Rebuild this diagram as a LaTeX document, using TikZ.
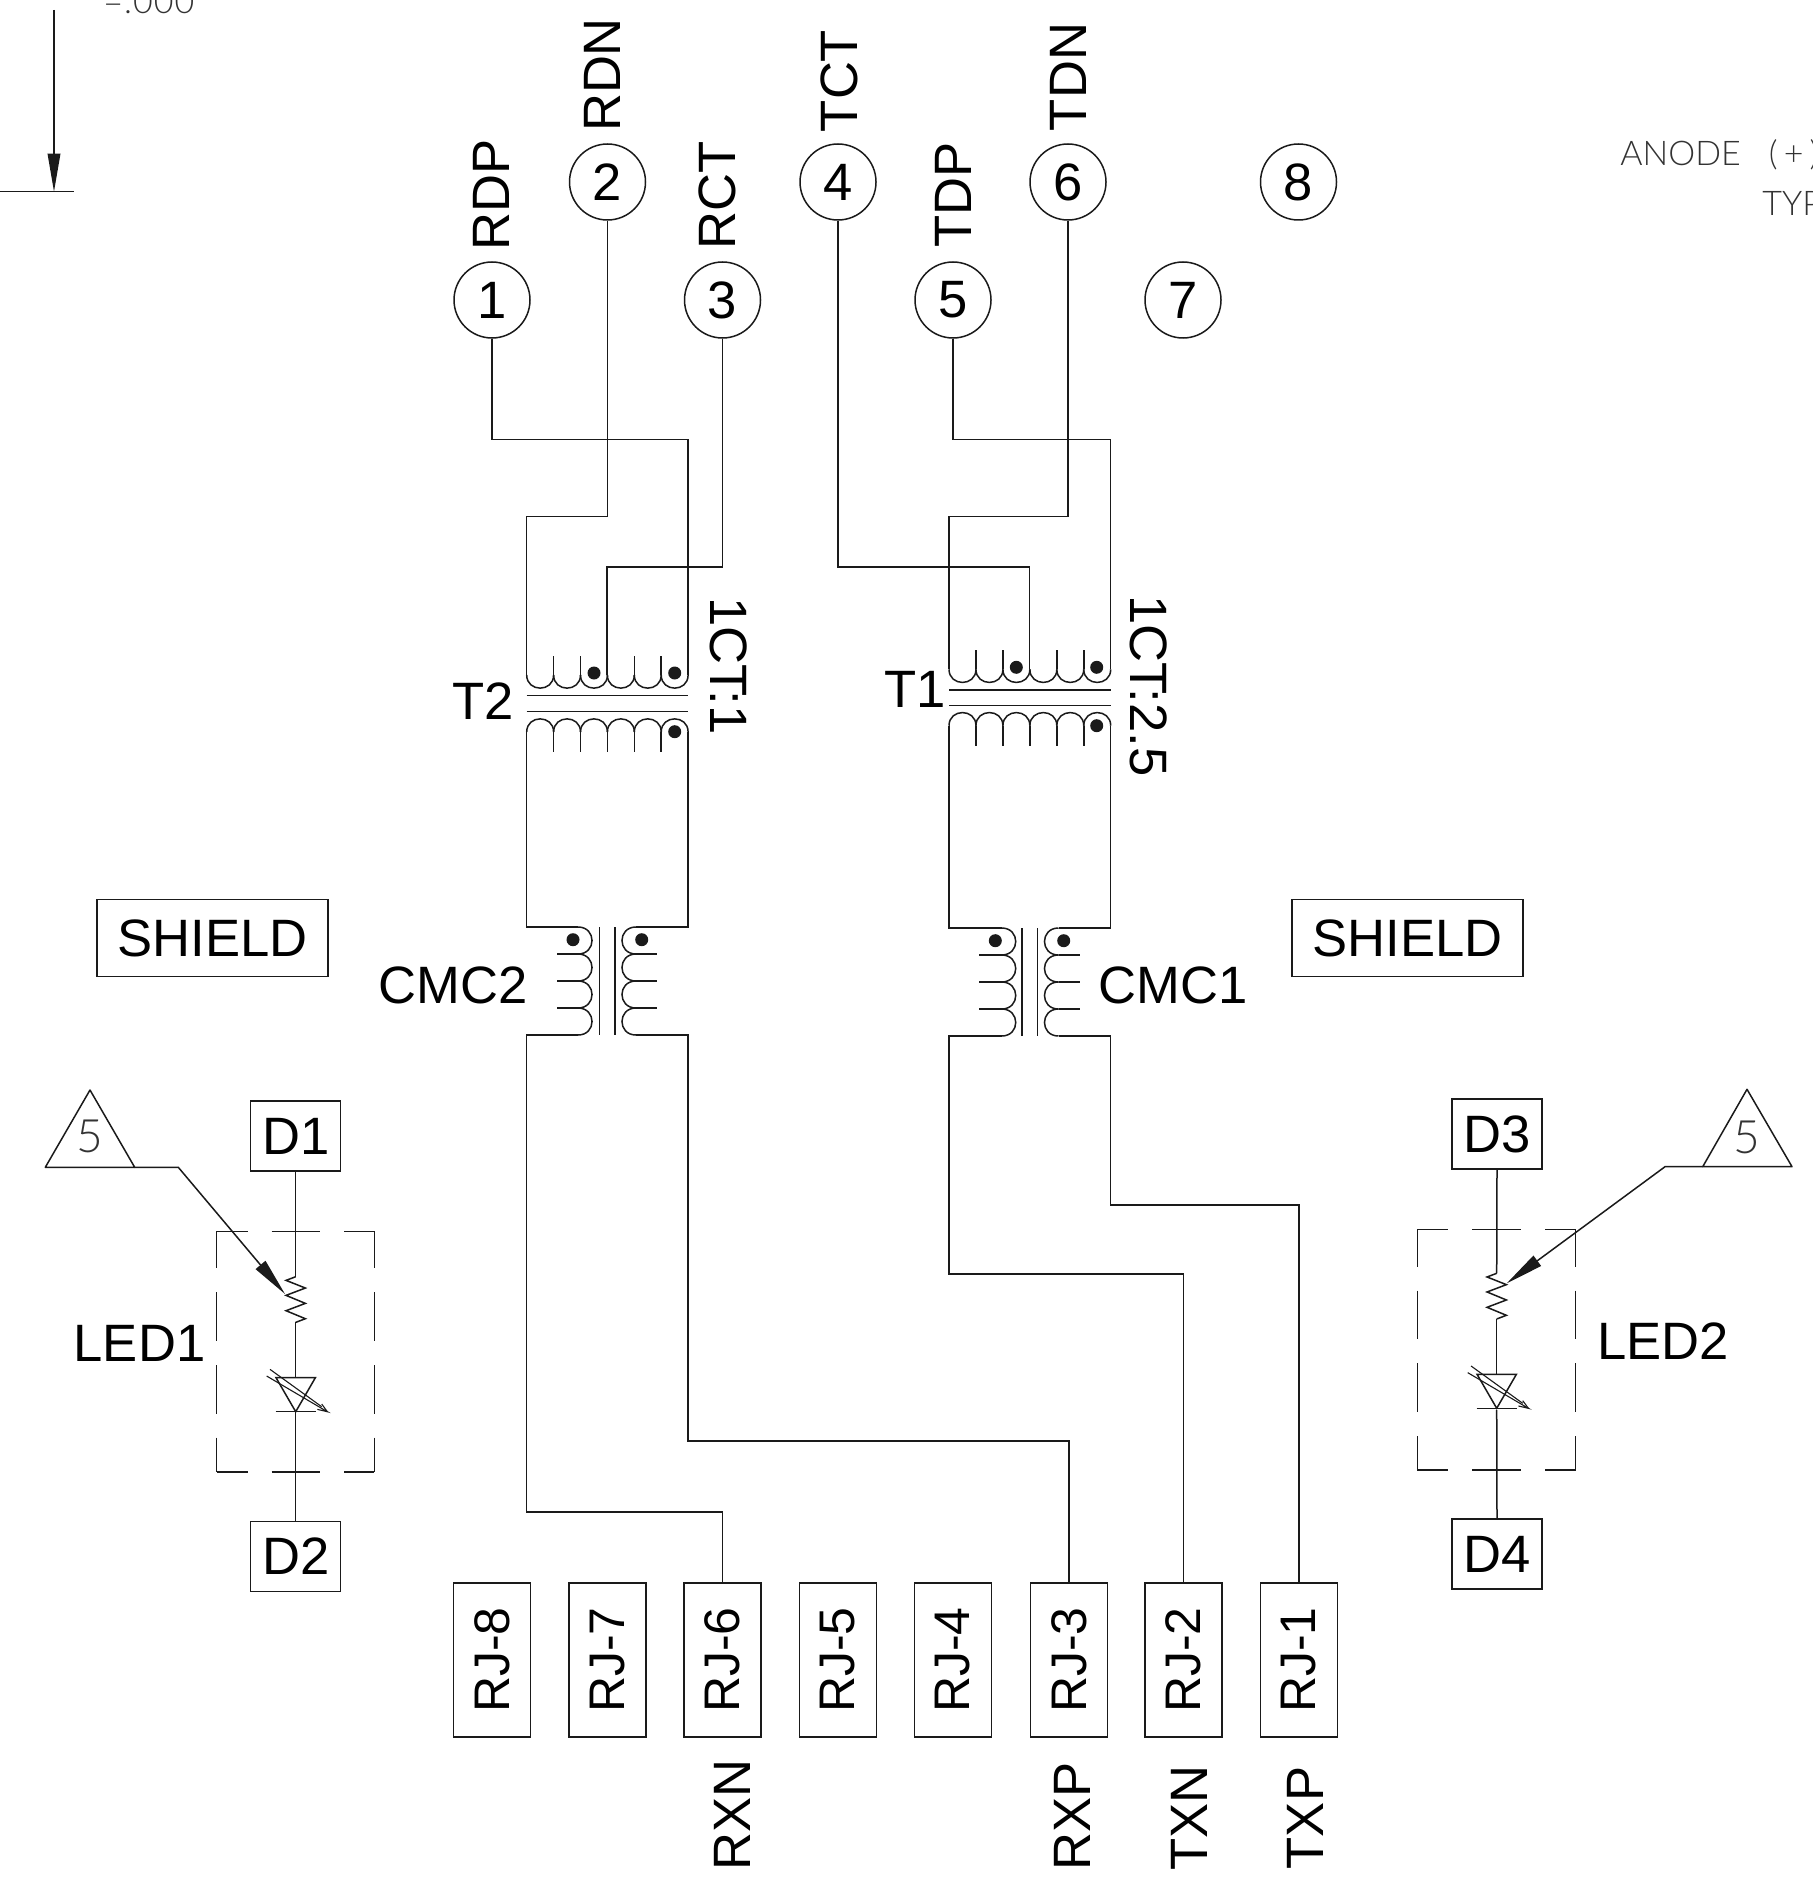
\documentclass[tikz,border=0pt]{standalone}
\usepackage{fontspec}
\setmainfont{Liberation Sans}
\newfontfamily\thinfont{Lato Light}
\usetikzlibrary{arrows.meta}
\definecolor{ink}{HTML}{1A1A1A}
\definecolor{thinink}{HTML}{333333}
\newcommand{\bigtext}{\fontsize{26.3}{28}\selectfont}
\newcommand{\rjtext}{\fontsize{25}{27}\selectfont}
\tikzset{
  wire/.style={draw=ink,line width=0.75pt,line join=miter},
  pin/.style={circle,draw=ink,line width=0.75pt,minimum size=38pt,inner sep=0pt,font=\bigtext},
  box/.style={rectangle,draw=ink,line width=0.75pt,inner sep=0pt,font=\bigtext},
  rjbox/.style={box,minimum width=38.5pt,minimum height=77pt,font=\rjtext},
  dbox/.style={box,minimum width=45pt,minimum height=35pt},
  shieldbox/.style={box,minimum width=115.5pt,minimum height=38.5pt},
  lab/.style={inner sep=0pt,font=\bigtext,text=black},
  vlab/.style={lab,rotate=90},
  rlab/.style={lab,rotate=-90},
  thinlab/.style={inner sep=0pt,text=thinink,font=\thinfont\fontsize{17}{19}\selectfont},
  tip/.style={wire,-{Triangle[length=19pt,width=6.3pt]}},
  dashh/.style={draw=ink,line width=0.65pt,dash pattern=on 24.35pt off 12pt,dash phase=8.85pt},
  dashv/.style={draw=ink,line width=0.65pt,dash pattern=on 24.35pt off 12pt,dash phase=5.85pt},
  dot/.style={fill=ink,draw=none},
}
\newcommand{\coilD}[4]{%
  \foreach \k in {0,...,5}{\draw[wire] ({#1+\k*#4},#2) .. controls ({#1+\k*#4},{#2+17.5}) and ({#1+(\k+1)*#4},{#2+17.5}) .. ({#1+(\k+1)*#4},#2);}%
}
\newcommand{\coilU}[4]{%
  \foreach \k in {0,...,5}{\draw[wire] ({#1+\k*#4},#2) .. controls ({#1+\k*#4},{#2-17.5}) and ({#1+(\k+1)*#4},{#2-17.5}) .. ({#1+(\k+1)*#4},#2);}%
  \foreach \k in {1,...,5}{\draw[wire] ({#1+\k*#4},#2) -- ({#1+\k*#4},#3);}%
}
\newcommand{\coilV}[4]{%
  \foreach \k in {0,1,2,3}{\draw[wire] (#1,{#2+\k*27}) .. controls ({#1+#3*18.7},{#2+\k*27}) and ({#1+#3*18.7},{#2+(\k+1)*27}) .. (#1,{#2+(\k+1)*27});}%
  \foreach \k in {1,2,3}{\draw[wire] (#1,{#2+\k*27}) -- (#4,{#2+\k*27});}%
}
\newcommand{\ledsym}{%
  \draw[wire] (0,0) -- (-29,11) -- (29,34) -- (-29,56) -- (29,80) -- (-29,102) -- (29,126) -- (0,137);
  \draw[wire] (-59,303) -- (59,303) -- (0,405) -- cycle;
  \draw[wire] (-60,405) -- (60,405);
  \draw[wire,line width=0.55pt] (-77,278) -- (78,390);
  \draw[wire,line width=0.55pt] (-87,298) -- (95,405) -- (65,398);
  \draw[wire,line width=0.55pt] (95,405) -- (78,382);
}
\begin{document}
\begin{tikzpicture}[x=0.5pt,y=-0.5pt]
\useasboundingbox (0,0) rectangle (1813,1888);
\clip (0,0) rectangle (1813,1888);
\fill[white] (0,0) rectangle (1813,1888);

% pins
\node[pin] (p1) at (492,300) {1};
\node[pin] (p2) at (607.5,182) {2};
\node[pin] (p3) at (722.5,300) {3};
\node[pin] (p4) at (838,182) {4};
\node[pin] (p5) at (953,300) {5};
\node[pin] (p6) at (1068,182) {6};
\node[pin] (p7) at (1183,300) {7};
\node[pin] (p8) at (1298.5,182) {8};

% pin labels
\node[vlab] (lrdp) at (491,195) {RDP};
\node[vlab] (lrdn) at (602,75) {RDN};
\node[vlab] (lrct) at (717,195) {RCT};
\node[vlab] (ltct) at (839,81) {TCT};
\node[vlab] (ltdp) at (953,195) {TDP};
\node[vlab] (ltdn) at (1068,77) {TDN};

% RJ boxes
\node[rjbox] (rj8) at (492,1660) {\rotatebox{90}{RJ-8}};
\node[rjbox] (rj7) at (607.5,1660) {\rotatebox{90}{RJ-7}};
\node[rjbox] (rj6) at (722.5,1660) {\rotatebox{90}{RJ-6}};
\node[rjbox] (rj5) at (838,1660) {\rotatebox{90}{RJ-5}};
\node[rjbox] (rj4) at (953,1660) {\rotatebox{90}{RJ-4}};
\node[rjbox] (rj3) at (1069,1660) {\rotatebox{90}{RJ-3}};
\node[rjbox] (rj2) at (1183.5,1660) {\rotatebox{90}{RJ-2}};
\node[rjbox] (rj1) at (1299,1660) {\rotatebox{90}{RJ-1}};
\node[vlab] (lrxn) at (732,1815) {RXN};
\node[vlab] (lrxp) at (1072,1816) {RXP};
\node[vlab] (ltxn) at (1189,1818) {TXN};
\node[vlab] (ltxp) at (1305,1818) {TXP};

% T2
\coordinate (t2a) at (526.7,675);
\coordinate (t2b) at (688,675);
\coordinate (t2c) at (607,675);
\coordinate (t2d) at (526.7,732);
\coordinate (t2e) at (688,732);
\coilU{526.7}{732}{752}{26.9}
\coilD{526.7}{675}{655.7}{26.9}
\foreach \k in {1,2,4,5}{\draw[wire] ({526.7+\k*26.9},675) -- ({526.7+\k*26.9},655.7);}
\draw[wire] (526.7,695.7) -- (688,695.7);
\draw[wire] (526.7,711.7) -- (688,711.7);
\fill[dot] (594,673) circle[radius=6.5];
\fill[dot] (674.7,673) circle[radius=6.5];
\fill[dot] (674.7,731.7) circle[radius=6.5];

% T1
\coordinate (t1a) at (949,669.3);
\coordinate (t1b) at (1110.7,669.3);
\coordinate (t1c) at (1029.7,669.3);
\coordinate (t1d) at (949,725.7);
\coordinate (t1e) at (1110.7,725.7);
\coilU{949}{725.7}{746}{26.95}
\coilD{949}{669.3}{650}{26.95}
\foreach \k in {1,2,4,5}{\draw[wire] ({949+\k*26.95},669.3) -- ({949+\k*26.95},650);}
\draw[wire] (949,690) -- (1110.7,690);
\draw[wire] (949,705.7) -- (1110.7,705.7);
\fill[dot] (1016.3,667.3) circle[radius=6.5];
\fill[dot] (1096.7,667.3) circle[radius=6.5];
\fill[dot] (1096.7,725.7) circle[radius=6.5];

% pin wiring
\draw[wire] (p1.south) -- (492,439.4) -- (688,439.4) -- (t2b);
\draw[wire] (p2.south) -- (607.5,516.5) -- (526.7,516.5) -- (t2a);
\draw[wire] (p3.south) -- (722.5,567) -- (607,567) -- (t2c);
\draw[wire] (p4.south) -- (838,567) -- (1029.7,567) -- (t1c);
\draw[wire] (p5.south) -- (953,439.4) -- (1110.7,439.4) -- (t1b);
\draw[wire] (p6.south) -- (1068,516.5) -- (949,516.5) -- (t1a);

% CMC2
\coilV{578}{927}{1}{556.7}
\coilV{636}{927}{-1}{657}
\draw[wire] (599.7,927) -- (599.7,1035);
\draw[wire] (615,927) -- (615,1035);
\fill[dot] (573,939.7) circle[radius=6.5];
\fill[dot] (641.7,939.7) circle[radius=6.5];
\coordinate (c2a) at (578,927);
\coordinate (c2b) at (636,927);
\coordinate (c2c) at (578,1035);
\coordinate (c2d) at (636,1035);
\draw[wire] (t2d) -- (526.7,927) -- (c2a);
\draw[wire] (t2e) -- (688,927) -- (c2b);

% CMC1
\coilV{1001.7}{928}{1}{979.3}
\coilV{1058.5}{928}{-1}{1080}
\draw[wire] (1022,928) -- (1022,1036);
\draw[wire] (1037.7,928) -- (1037.7,1036);
\fill[dot] (995.3,940.7) circle[radius=6.5];
\fill[dot] (1063.7,940.7) circle[radius=6.5];
\coordinate (c1a) at (1001.7,928);
\coordinate (c1b) at (1058.5,928);
\coordinate (c1c) at (1001.7,1036);
\coordinate (c1d) at (1058.5,1036);
\draw[wire] (t1d) -- (949,928) -- (c1a);
\draw[wire] (t1e) -- (1110.7,928) -- (c1b);

% to RJ
\draw[wire] (c2c) -- (526.7,1035) -- (526.7,1512) -- (722.5,1512) -- (rj6.north);
\draw[wire] (c2d) -- (688,1035) -- (688,1441) -- (1069,1441) -- (rj3.north);
\draw[wire] (c1c) -- (949,1036) -- (949,1274) -- (1183.5,1274) -- (rj2.north);
\draw[wire] (c1d) -- (1110.7,1036) -- (1110.7,1205) -- (1299,1205) -- (rj1.north);

% component labels
\node[lab] (lt2) at (483.5,701) {T2};
\node[lab] (lt1) at (915,689) {T1};
\node[rlab] (r2) at (729,666) {1CT:1};
\node[rlab] (r1) at (1149,686) {1CT:2.5};
\node[lab] (lc2) at (453,985) {CMC2};
\node[lab] (lc1) at (1173.5,985) {CMC1};
\node[shieldbox] (s1) at (212.5,938) {SHIELD};
\node[shieldbox] (s2) at (1407.5,938) {SHIELD};

% LED1
\node[dbox] (d1) at (295.7,1136) {D1};
\node[dbox] (d2) at (295.7,1556.5) {D2};
\coordinate (r1t) at (295.7,1276.7);
\coordinate (r1b) at (295.7,1322.3);
\coordinate (l1t) at (295.7,1377.7);
\coordinate (l1b) at (295.7,1411.7);
\begin{scope}[shift={(295.7,1276.7)},x=0.16667pt,y=-0.16667pt]\ledsym\end{scope}
\draw[wire] (d1.south) -- (r1t);
\draw[wire] (r1b) -- (l1t);
\draw[wire] (l1b) -- (d2.north);
\draw[dashh] (216.7,1231.3) -- (374.3,1231.3);
\draw[dashh] (216.7,1472) -- (374.3,1472);
\draw[dashv] (216.7,1231.3) -- (216.7,1472);
\draw[dashv] (374.3,1231.3) -- (374.3,1472);
\node[lab] (led1) at (139.5,1343) {LED1};
\coordinate (a1) at (285,1294);
\coordinate (tri1r) at (134.7,1167.3);
\draw[wire,line join=round] (90,1090) -- (45.3,1167.3) -- (tri1r) -- cycle;
\draw[tip] (tri1r) -- (178.3,1167.3) -- (a1);
\node[thinlab] (five1) at (90,1136) {\fontsize{23}{25}\selectfont 5};

% LED2
\node[dbox] (d3) at (1497,1134) {D3};
\node[dbox] (d4) at (1497,1554) {D4};
\coordinate (r2t) at (1496.7,1273.3);
\coordinate (r2b) at (1496.7,1319);
\coordinate (l2t) at (1496.7,1375);
\coordinate (l2b) at (1496.7,1410);
\begin{scope}[shift={(1496.7,1273.3)},x=0.16667pt,y=-0.16667pt]\ledsym\end{scope}
\draw[wire] (d3.south) -- (r2t);
\draw[wire] (r2b) -- (l2t);
\draw[wire] (l2b) -- (d4.north);
\draw[dashh] (1417.3,1229.7) -- (1575.7,1229.7);
\draw[dashh] (1417.3,1470) -- (1575.7,1470);
\draw[dashv] (1417.3,1229.7) -- (1417.3,1470);
\draw[dashv] (1575.7,1229.7) -- (1575.7,1470);
\node[lab] (led2) at (1663,1341) {LED2};
\coordinate (a2) at (1506.7,1283.3);
\coordinate (tri2l) at (1702.7,1166.7);
\draw[wire,line join=round] (1747,1089.3) -- (1792,1166.7) -- (tri2l) -- cycle;
\draw[tip] (tri2l) -- (1665,1166.7) -- (a2);
\node[thinlab] (five2) at (1747,1137) {\fontsize{23}{25}\selectfont 5};

% top-left datum
\coordinate (dat) at (54,191.7);
\coordinate (dattop) at (54,10);
\draw[tip] (dattop) -- (dat);
\draw[wire] (0,191.7) -- (74,191.7);
\node[thinlab,anchor=base west] (val) at (103,14) {\addfontfeature{LetterSpace=3}=.000};

% top-right note
\node[thinlab,anchor=base west] (anode) at (1620,165.7) {ANODE\hspace{14pt}\addfontfeature{LetterSpace=18}(+)};
\node[thinlab,anchor=base west] (typ) at (1762,216) {TYP};
\end{tikzpicture}
\end{document}
